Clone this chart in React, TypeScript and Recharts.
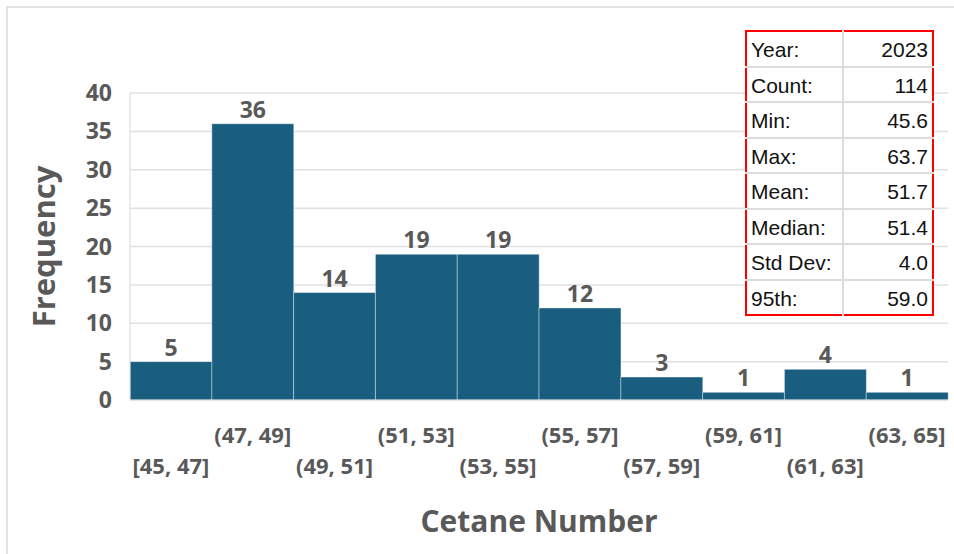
import React from 'react';
import { BarChart, Bar, XAxis, YAxis, CartesianGrid, LabelList } from 'recharts';

const bins = ['[45, 47]', '(47, 49]', '(49, 51]', '(51, 53]', '(53, 55]', '(55, 57]', '(57, 59]', '(59, 61]', '(61, 63]', '(63, 65]'];
const counts = [5, 36, 14, 19, 19, 12, 3, 1, 4, 1];
const yTicks = [0, 5, 10, 15, 20, 25, 30, 35, 40];
const statLabels = ['Year:', 'Count:', 'Min:', 'Max:', 'Mean:', 'Median:', 'Std Dev:', '95th:'];
const statValues = ['2023', '114', '45.6', '63.7', '51.7', '51.4', '4.0', '59.0'];

const data = bins.map((b, i) => ({ bin: b, count: counts[i] }));

const GRAY = '#595959';
const BAR = '#195E7F';
const FONT = '"Open Sans", sans-serif';

const XTick = (props: any) => {
  const { x, y, payload } = props;
  const idx = bins.indexOf(payload.value);
  const dy = idx % 2 === 1 ? 37 : 68;
  return (
    <text x={x} y={y + dy - 2} textAnchor="middle" fill={GRAY} fontFamily={FONT} fontWeight={700} fontSize={22}>
      {payload.value}
    </text>
  );
};

const YTick = (props: any) => {
  const { x, y, payload } = props;
  return (
    <text x={x - 10} y={y} dy={8} textAnchor="end" fill={GRAY} fontFamily={FONT} fontWeight={700} fontSize={23}>
      {payload.value}
    </text>
  );
};

export default function App() {
  return (
    <div style={{ position: 'absolute', left: 0, top: 0, width: 954, height: 554, background: '#fff', overflow: 'hidden' }}>
      <div style={{ position: 'absolute', left: 6, top: 6, width: 948, height: 548, borderLeft: '2px solid #e3e3e3', borderTop: '2px solid #e3e3e3' }} />
      <BarChart
        width={954}
        height={554}
        data={data}
        margin={{ top: 93, right: 6, bottom: 0, left: 0 }}
        barCategoryGap={0}
        style={{ position: 'absolute', left: 0, top: 0 }}
      >
        <CartesianGrid vertical={false} stroke="#e0e0e0" strokeWidth={1.5} />
        <XAxis
          dataKey="bin"
          interval={0}
          tickLine={false}
          axisLine={{ stroke: '#d9d9d9' }}
          height={154}
          tick={<XTick />}
          label={{
            content: (p: any) => {
              const vb = p.viewBox;
              return (
                <text x={vb.x + vb.width / 2 + 0} y={vb.y + 132} textAnchor="middle" fill={GRAY} fontFamily={FONT} fontWeight={700} fontSize={30}>
                  Cetane Number
                </text>
              );
            },
          }}
        />
        <YAxis
          domain={[0, 40]}
          ticks={yTicks}
          width={130}
          tickLine={false}
          axisLine={{ stroke: '#d9d9d9' }}
          tick={<YTick />}
          label={{
            content: (p: any) => {
              const vb = p.viewBox;
              const cx = vb.x + 45;
              const cy = vb.y + vb.height / 2;
              return (
                <text x={cx} y={cy} transform={`rotate(-90 ${cx} ${cy})`} dy={10} textAnchor="middle" fill={GRAY} fontFamily={FONT} fontWeight={700} fontSize={31}>
                  Frequency
                </text>
              );
            },
          }}
        />
        <Bar dataKey="count" fill={BAR} stroke="rgba(255,255,255,0.45)" strokeWidth={1} isAnimationActive={false}>
          <LabelList dataKey="count" position="top" offset={6} fill={GRAY} fontFamily={FONT} fontWeight={700} fontSize={23} />
        </Bar>
      </BarChart>
      <table
        style={{
          position: 'absolute',
          left: 745,
          top: 30,
          width: 189,
          height: 285,
          borderCollapse: 'collapse',
          border: '2px solid #ff0000',
          fontFamily: '"Liberation Sans", Arial, sans-serif',
          fontSize: 21,
          color: '#111',
          background: '#fff',
        }}
      >
        <tbody>
          {statLabels.map((l, i) => (
            <tr key={l} style={{ height: 35.5 }}>
              <td style={{ width: 94, padding: '3px 0 0 4px', borderTop: i ? '2px solid #dcdcdc' : 'none', borderRight: '2px solid #dcdcdc', textAlign: 'left', whiteSpace: 'nowrap' }}>{l}</td>
              <td style={{ width: 94, padding: '3px 4px 0 0', borderTop: i ? '2px solid #dcdcdc' : 'none', textAlign: 'right' }}>{statValues[i]}</td>
            </tr>
          ))}
        </tbody>
      </table>
    </div>
  );
}
